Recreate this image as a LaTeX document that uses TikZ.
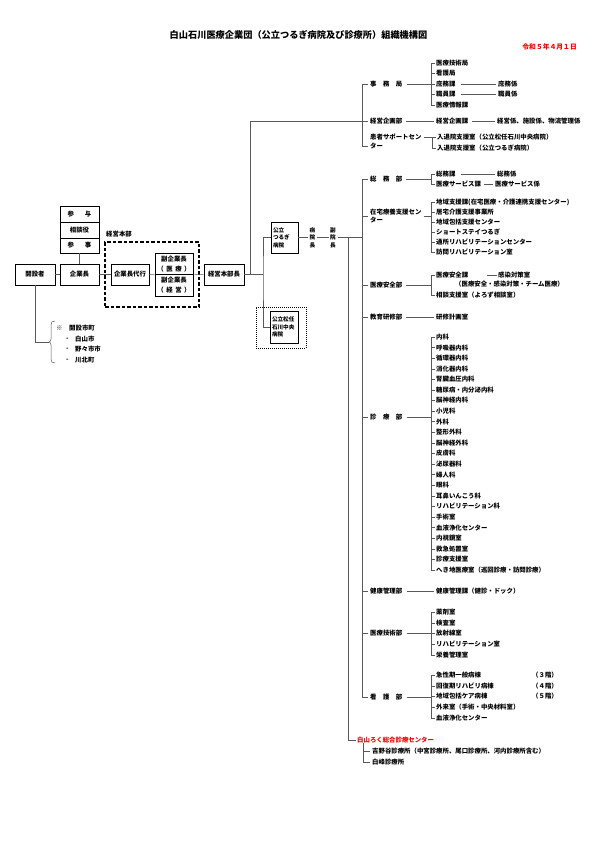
\documentclass[tikz,border=0pt]{standalone}
\usepackage{fontspec}
\setmainfont{Noto Sans CJK JP}
\newcommand{\tf}{\fontsize{6.4}{8}\selectfont\bfseries}
\newcommand{\smf}{\fontsize{5.6}{7.5}\selectfont\bfseries}
\begin{document}
\begin{tikzpicture}[x=1pt,y=-1pt,
  t/.style={font=\tf, inner sep=0pt, anchor=west},
  bx/.style={draw=black, line width=0.6pt, font=\tf, inner sep=0pt, align=center},
  ln/.style={draw=black!65, line width=0.5pt}]
\useasboundingbox (0,0) rectangle (595,841);
\fill[white] (0,0) rectangle (595,841);

% title
\node[font=\fontsize{9.2}{11}\selectfont\bfseries, inner sep=0pt] (title) at (298.5,35) {白山石川医療企業団（公立つるぎ病院及び診療所）組織機構図};
\node[font=\fontsize{6.8}{8}\selectfont\bfseries, text=red, inner sep=0pt, anchor=east] (date) at (577,47) {令和５年４月１日};

% left part
\node[bx, minimum width=40pt, minimum height=21pt] (kaisetsu) at (35,274.5) {開設者};
\node[bx, minimum width=39pt, minimum height=21pt] (kigyo) at (79.5,274.5) {企業長};
\node[bx, minimum width=39pt, minimum height=16pt] (sanyo) at (79.5,214) {参\hspace{11pt}与};
\node[bx, minimum width=39pt, minimum height=16pt] (sodan) at (79.5,230) {相談役};
\node[bx, minimum width=39pt, minimum height=15pt] (sanji) at (79.5,245.5) {参\hspace{11pt}事};
\node[t] (honbulbl) at (106,234) {経営本部};
\node[draw=black, line width=1.2pt, dash pattern=on 3.5pt off 2pt, minimum width=94pt, minimum height=65pt, inner sep=0pt] (honbu) at (152,274.5) {};
\node[bx, minimum width=38pt, minimum height=21pt] (daiko) at (130,274.5) {企業長代行};
\node[bx, font=\fontsize{6.4}{10}\selectfont\bfseries, minimum width=38pt, minimum height=21.5pt] (fukuA) at (174,263.75) {副企業長\\（\hspace{2.5pt}医\hspace{2.5pt}療\hspace{2.5pt}）};
\node[bx, font=\fontsize{6.4}{10}\selectfont\bfseries, minimum width=38pt, minimum height=21.5pt] (fukuB) at (174,285.25) {副企業長\\（\hspace{2.5pt}経\hspace{2.5pt}営\hspace{2.5pt}）};
\node[bx, minimum width=40pt, minimum height=21pt] (honbucho) at (224,274.5) {経営本部長};

\draw[ln] (kaisetsu) -- (kigyo);
\draw[ln] (kigyo) -- (daiko);
\draw[ln] (kigyo) -- (sanji);
\draw[ln] (daiko.east) -- (fukuA.south west);
\draw[ln] (fukuA.south east) -- (honbucho.west);
\coordinate (j1) at (263,274.5);
\coordinate (m0) at (250,274.5);
\draw[ln] (honbucho.east) -- (j1);

% founders
\coordinate (brtip) at (49,342);
\draw[ln] (kaisetsu.south) |- (brtip);
\draw[ln] (55,321) .. controls (52,321) and (51,322) .. (51,325) -- (51,339) .. controls (51,341) and (50,342) .. (brtip) .. controls (50,342) and (51,343) .. (51,345) -- (51,359) .. controls (51,362) and (52,363) .. (55,363);
\node[t] (kome) at (56,328) {※};
\node[t] (shicho) at (69,328) {開設市町};
\node[t] (d1) at (66,339) {-};
\node[t] (c1) at (75,339) {白山市};
\node[t] (d2) at (66,349.5) {-};
\node[t] (c2) at (75,349.5) {野々市市};
\node[t] (d3) at (66,360) {-};
\node[t] (c3) at (75,360) {川北町};

% headquarters branch
\node[t] (jimu) at (370,84) {事　務　局};
\node[t] (keiei) at (370,121) {経営企画部};
\node[t] (kanja1) at (370,137) {患者サポートセン};
\node[t] (kanja2) at (370,146) {ター};
\draw[ln] (m0) |- ([xshift=-2pt]keiei.west);
\draw[ln] ([xshift=-2pt]jimu.west) -- ([xshift=-8pt]jimu.west) -- ([xshift=-8pt]kanja2.west) -- ([xshift=-2pt]kanja2.west);

\node[t] (jk0) at (436,63) {医療技術局};
\node[t] (jk1) at (436,73.5) {看護局};
\node[t] (jk2) at (436,84) {庶務課};
\node[t] (jk3) at (436,94.5) {職員課};
\node[t] (jk4) at (436,105) {医療情報課};
\foreach \i in {0,...,4} {\draw[ln] ([xshift=-5pt]jk\i.west) -- ([xshift=-1.5pt]jk\i.west);}
\draw[ln] ([xshift=-5pt]jk0.west) -- ([xshift=-5pt]jk4.west);
\draw[ln] ([xshift=5pt]jimu.east) -- ([xshift=-5pt]jk2.west);
\node[t] (shomukk) at (498,84) {庶務係};
\node[t] (shokuinkk) at (498,94.5) {職員係};
\draw[ln] ([xshift=5pt]jk2.east) -- ([xshift=-2pt]shomukk.west);
\draw[ln] ([xshift=5pt]jk3.east) -- ([xshift=-2pt]shokuinkk.west);

\node[t] (keieika) at (436,121) {経営企画課};
\node[t] (keieikk) at (497,121) {経営係、施設係、物流管理係};
\draw[ln] ([xshift=4pt]keiei.east) -- ([xshift=-2pt]keieika.west);
\draw[ln] ([xshift=4pt]keieika.east) -- ([xshift=-2pt]keieikk.west);

\node[t] (nyu1) at (437,137) {入退院支援室（公立松任石川中央病院）};
\node[t] (nyu2) at (437,148) {入退院支援室（公立つるぎ病院）};
\draw[ln] ([xshift=2pt]kanja1.east) -- ([xshift=-1.5pt]nyu1.west);
\draw[ln] ([xshift=-5pt]nyu1.west) |- ([xshift=-1.5pt]nyu2.west);

% hospitals
\node[bx, font=\smf, minimum width=27pt, minimum height=31pt, text width=23pt, align=left] (tsurugi) at (284.5,237.5) {公立\\つるぎ\\病院};
\node[draw=black, line width=0.5pt, dash pattern=on 1pt off 1pt, minimum width=50pt, minimum height=41pt, inner sep=0pt] (mattoout) at (281,327.5) {};
\node[bx, font=\smf, minimum width=28pt, minimum height=32pt, text width=24pt, align=left] (matto) at (284,327) {公立松任\\石川中央\\病院};
\draw[ln] (tsurugi.west) -| (j1) |- (matto.west);

\node[font=\smf, inner sep=1.5pt, align=center] (byoincho) at (312.5,237.5) {病\\院\\長};
\node[font=\smf, inner sep=1.5pt, align=center] (fukuincho) at (333,237.5) {副\\院\\長};
\coordinate (busH) at (362,237.5);
\coordinate (hsplit) at (348,237.5);
\draw[ln] (tsurugi.east) -- (byoincho.west);
\draw[ln] (byoincho.east) -- (fukuincho.west);
\draw[ln] (fukuincho.east) -- (busH);

% departments
\node[t] (somu) at (370,179) {総　務　部};
\node[t, align=left, font=\fontsize{6.4}{8}\selectfont\bfseries] (zaitaku) at (370,216) {在宅療養支援セン\\ター};
\node[t] (anzen) at (370,285) {医療安全部};
\node[t] (kyoiku) at (370,317) {教育研修部};
\node[t] (shinryo) at (370,417) {診　療　部};
\node[t] (kenko) at (370,591) {健康管理部};
\node[t] (gijutsu) at (370,633.5) {医療技術部};
\node[t] (kango) at (370,697) {看　護　部};
\draw[ln] ([xshift=-2pt]somu.west) -- ([xshift=-8pt]somu.west) -- ([xshift=-8pt]kango.west) -- ([xshift=-2pt]kango.west);
\foreach \d in {zaitaku,anzen,kyoiku,shinryo,kenko,gijutsu} {\draw[ln] ([xshift=-8pt]\d.west) -- ([xshift=-2pt]\d.west);}

% 総務部
\node[t] (somuka) at (436,174) {総務課};
\node[t] (servka) at (436,184) {医療サービス課};
\node[t] (somukk) at (497,174) {総務係};
\node[t] (servkk) at (495,184) {医療サービス係};
\draw[ln] ([xshift=-5pt]somuka.west) -- ([xshift=-1.5pt]somuka.west);
\draw[ln] ([xshift=-5pt]somuka.west) |- ([xshift=-1.5pt]servka.west);
\coordinate (somubus) at ([xshift=-5pt]somuka.west);
\draw[ln] ([xshift=4pt]somu.east) -- (somu.east -| somubus);
\draw[ln] ([xshift=5pt]somuka.east) -- ([xshift=-2pt]somukk.west);
\draw[ln] ([xshift=3pt]servka.east) -- ([xshift=-2pt]servkk.west);

% 在宅
\foreach \s [count=\i from 0] in {地域支援課(在宅医療・介護連携支援センター),居宅介護支援事業所,地域包括支援センター,ショートステイつるぎ,通所リハビリテーションセンター,訪問リハビリテーション室} {
  \node[t] (zt\i) at (436,202+10*\i) {\s};
  \draw[ln] ([xshift=-5pt]zt\i.west) -- ([xshift=-1.5pt]zt\i.west);
}
\draw[ln] ([xshift=-5pt]zt0.west) -- ([xshift=-5pt]zt5.west);
\coordinate (ztbus) at ([xshift=-5pt]zt0.west);
\draw[ln] ([xshift=2pt]zaitaku.east) -- (zaitaku.east -| ztbus);

% 医療安全部
\node[t] (anzenka) at (436,275) {医療安全課};
\node[t] (kansen) at (498,275) {感染対策室};
\node[t] (kansen2) at (455,284.5) {（医療安全・感染対策・チーム医療）};
\node[t] (sodanshitsu) at (436,295) {相談支援室（よろず相談室）};
\draw[ln] ([xshift=-5pt]anzenka.west) -- ([xshift=-1.5pt]anzenka.west);
\draw[ln] ([xshift=-5pt]anzenka.west) |- ([xshift=-1.5pt]sodanshitsu.west);
\coordinate (anbus) at ([xshift=-5pt]anzenka.west);
\draw[ln] ([xshift=4pt]anzen.east) -- (anzen.east -| anbus);
\draw[ln] ([xshift=-11pt]kansen.west) -- ([xshift=-1.5pt]kansen.west);

% 教育研修部
\node[t] (kenshu) at (436,317) {研修計画室};
\draw[ln] ([xshift=4pt]kyoiku.east) -- ([xshift=-2pt]kenshu.west);

% 診療部
\foreach \s [count=\i from 0] in {内科,呼吸器内科,循環器内科,消化器内科,腎臓血圧内科,糖尿病・内分泌内科,脳神経内科,小児科,外科,整形外科,脳神経外科,皮膚科,泌尿器科,婦人科,眼科,耳鼻いんこう科,リハビリテーション科,手術室,血液浄化センター,内視鏡室,救急処置室,診療支援室,へき地医療室（巡回診療・訪問診療）} {
  \node[t] (sr\i) at (436,337+10.59*\i) {\s};
  \draw[ln] ([xshift=-5pt]sr\i.west) -- ([xshift=-1.5pt]sr\i.west);
}
\draw[ln] ([xshift=-5pt]sr0.west) -- ([xshift=-5pt]sr22.west);
\coordinate (srbus) at ([xshift=-5pt]sr0.west);
\draw[ln] ([xshift=5pt]shinryo.east) -- (shinryo.east -| srbus);

% 健康管理部
\node[t] (kenkoka) at (436,591) {健康管理課（健診・ドック）};
\draw[ln] ([xshift=5pt]kenko.east) -- ([xshift=-2pt]kenkoka.west);

% 医療技術部
\foreach \s [count=\i from 0] in {薬剤室,検査室,放射線室,リハビリテーション室,栄養管理室} {
  \node[t] (gj\i) at (436,612+10.75*\i) {\s};
  \draw[ln] ([xshift=-5pt]gj\i.west) -- ([xshift=-1.5pt]gj\i.west);
}
\draw[ln] ([xshift=-5pt]gj0.west) -- ([xshift=-5pt]gj4.west);
\coordinate (gjbus) at ([xshift=-5pt]gj0.west);
\draw[ln] ([xshift=5pt]gijutsu.east) -- (gijutsu.east -| gjbus);

% 看護部
\foreach \s [count=\i from 0] in {急性期一般病棟,回復期リハビリ病棟,地域包括ケア病棟,外来室（手術・中央材料室）,血液浄化センター} {
  \node[t] (kg\i) at (436,675+10.75*\i) {\s};
  \draw[ln] ([xshift=-5pt]kg\i.west) -- ([xshift=-1.5pt]kg\i.west);
}
\draw[ln] ([xshift=-5pt]kg0.west) -- ([xshift=-5pt]kg4.west);
\coordinate (kgbus) at ([xshift=-5pt]kg0.west);
\draw[ln] ([xshift=5pt]kango.east) -- (kango.east -| kgbus);
\node[t] (f3) at (532,675) {（３階）};
\node[t] (f4) at (532,685.75) {（４階）};
\node[t] (f5) at (532,696.5) {（５階）};

% 白山ろく
\node[t, text=red] (hakusan) at (357,740) {白山ろく総合診療センター};
\draw[ln] (hsplit) |- ([xshift=-1.5pt]hakusan.west);
\node[t] (yoshino) at (372,751) {吉野谷診療所（中宮診療所、尾口診療所、河内診療所含む）};
\node[t] (shiramine) at (372,762) {白峰診療所};
\coordinate (hk) at ([xshift=6pt]hakusan.south west);
\draw[ln] (hk) |- ([xshift=-2pt]shiramine.west);
\draw[ln] (hk |- yoshino.west) -- ([xshift=-2pt]yoshino.west);
\end{tikzpicture}
\end{document}
